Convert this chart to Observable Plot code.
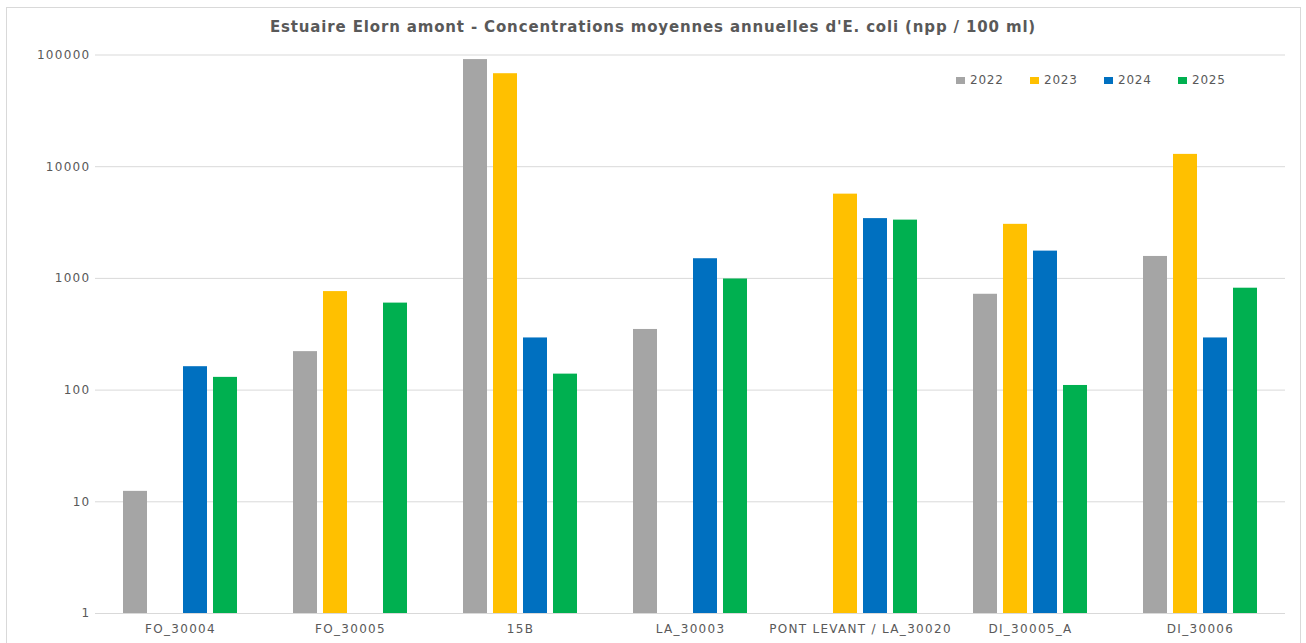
<!DOCTYPE html>
<html>
<head>
<meta charset="utf-8">
<script src="https://cdn.jsdelivr.net/npm/d3@7"></script>
<script src="https://cdn.jsdelivr.net/npm/@observablehq/plot@0.6"></script>
<style>
  html, body { margin: 0; padding: 0; background: #fff; }
  #wrap { position: relative; width: 1306px; height: 643px; overflow: hidden; font-family: "DejaVu Sans", sans-serif; }
  #frame { position: absolute; left: 6px; top: 7px; width: 1295px; height: 640px; border: 1px solid #d9d9d9; box-sizing: border-box; pointer-events: none; }
  #title { position: absolute; left: 0; top: 18px; width: 1306px; text-align: center; font: bold 15px "DejaVu Sans", sans-serif; color: #595959; letter-spacing: 0.85px; }
  #chart { position: absolute; left: 0; top: 40px; }
  #legend { position: absolute; left: 956px; top: 73px; display: flex; gap: 0; font: 12px "DejaVu Sans", sans-serif; color: #595959; letter-spacing: 0.8px; }
  #legend .item { width: 74px; display: flex; align-items: center; }
  #legend .sw { width: 9px; height: 7px; margin-right: 5px; }
  #chart svg text { letter-spacing: 1.3px; }
</style>
</head>
<body>
<div id="wrap">
  <div id="frame"></div>
  <div id="title">Estuaire Elorn amont - Concentrations moyennes annuelles d'E. coli (npp / 100 ml)</div>
  <div id="chart"></div>
  <div id="legend"></div>
</div>
<script>
const stations = ["FO_30004", "FO_30005", "15B", "LA_30003", "PONT LEVANT / LA_30020", "DI_30005_A", "DI_30006"];
const years = ["2022", "2023", "2024", "2025"];
const colors = ["#A5A5A5", "#FFC000", "#0070C0", "#00B050"];
const v2022 = [12.4, 221, 91000, 349, null, 721, 1572];
const v2023 = [null, 762, 68000, null, 5680, 3048, 12890];
const v2024 = [162, null, 293, 1500, 3430, 1755, 293];
const v2025 = [130, 601, 139, 988, 3325, 110, 817];
const yTicks = [1, 10, 100, 1000, 10000, 100000];

const series = [v2022, v2023, v2024, v2025];
const data = [];
stations.forEach((s, i) => {
  years.forEach((y, j) => {
    const v = series[j][i];
    if (v != null) data.push({station: s, year: y, value: v});
  });
});

const chart = Plot.plot({
  width: 1306,
  height: 603,
  marginLeft: 95,
  marginRight: 21,
  marginTop: 14.5,
  marginBottom: 30,
  style: {fontFamily: "DejaVu Sans, sans-serif", fontSize: "12px", color: "#595959", background: "transparent"},
  fx: {domain: stations, padding: 0, label: null, axis: "bottom", tickSize: 0, tickPadding: 11},
  x: {domain: years, paddingInner: 0.2, paddingOuter: 0.878, axis: null},
  y: {type: "log", domain: [1, 100000], ticks: yTicks, tickFormat: d => String(d), label: null, tickSize: 0, tickPadding: 5},
  color: {domain: years, range: colors},
  marks: [
    Plot.ruleY(yTicks, {stroke: "#d9d9d9", strokeWidth: 1}),
    Plot.barY(data, {fx: "station", x: "year", y1: 1, y2: "value", fill: "year"})
  ]
});
document.getElementById("chart").appendChild(chart);

const legend = document.getElementById("legend");
years.forEach((y, i) => {
  const it = document.createElement("div");
  it.className = "item";
  const sw = document.createElement("span");
  sw.className = "sw";
  sw.style.background = colors[i];
  it.appendChild(sw);
  it.appendChild(document.createTextNode(y));
  legend.appendChild(it);
});
</script>
</body>
</html>
